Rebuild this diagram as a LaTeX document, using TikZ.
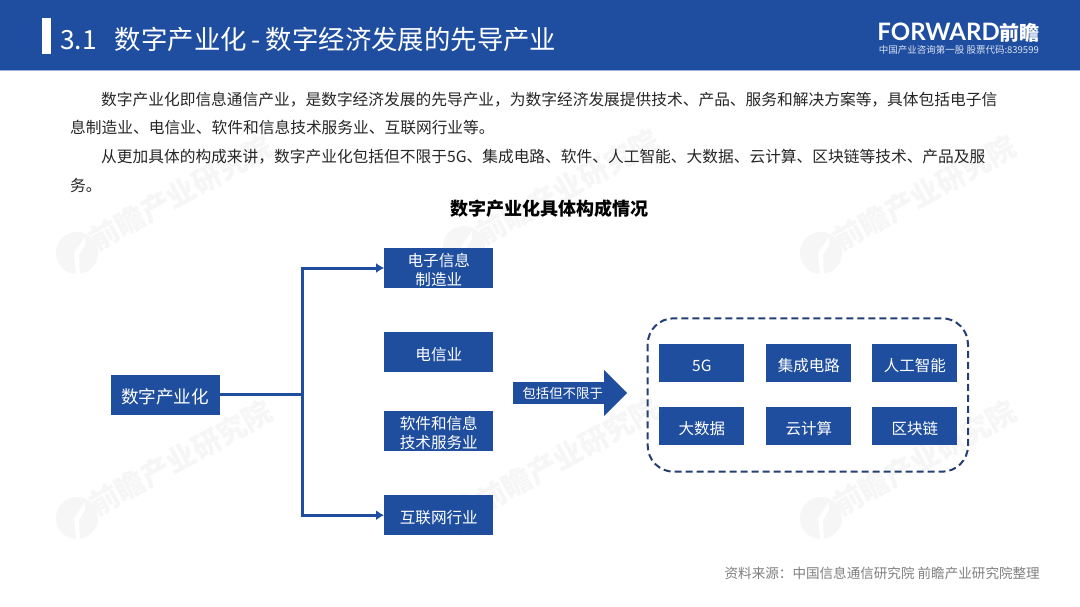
\documentclass[tikz,border=0pt]{standalone}
\usepackage{fontspec}
\setmainfont{Noto Sans CJK SC}
\newfontfamily\logofont{Lato}
\usetikzlibrary{shapes.arrows,arrows.meta}
\definecolor{headblue}{HTML}{1F4EA1}
\definecolor{boxblue}{HTML}{1F4E9E}
\definecolor{dashnavy}{HTML}{243F73}
\definecolor{bodygray}{HTML}{262626}
\definecolor{wmgray}{HTML}{F6F6F6}
\tikzset{
  box/.style={fill=boxblue,text=white,minimum width=109pt,minimum height=40pt,inner sep=0pt,align=center,font=\fontsize{15.6}{19.3}\selectfont},
  smallbox/.style={fill=boxblue,text=white,minimum width=85pt,minimum height=38.5pt,inner sep=0pt,font=\fontsize{15.5}{19}\selectfont},
  link/.style={draw=boxblue,line width=3pt},
  bodyline/.style={anchor=west,inner sep=0pt,text=bodygray,font=\fontsize{15.72}{17}\selectfont},
  wmark/.style={text=wmgray,rotate=29,inner sep=0pt,font=\fontsize{29}{29}\selectfont\bfseries},
}
\newcommand{\lowstrut}{\rule{0pt}{18pt}}
\newcommand{\twolines}[2]{\raisebox{-7.4pt}[16pt][16pt]{\begin{tabular}{@{}c@{}}#1\\#2\end{tabular}}}
\begin{document}
\begin{tikzpicture}[x=1pt,y=-1pt]
\useasboundingbox (0,0) rectangle (1080,607);
\fill[white] (0,0) rectangle (1080,607);
% watermarks
\foreach \wx/\wy in {181/193,925/193,181/458,925/458,568/187,568/455} {
  \fill[wmgray] (\wx-104,\wy+60) circle (21);
  \fill[white] (\wx-105,\wy+82) -- (\wx-107,\wy+60) -- (\wx-96,\wy+44) -- (\wx-96,\wy+52) -- (\wx-102,\wy+62) -- (\wx-101,\wy+82) -- cycle;
  \node[wmark] (wm) at (\wx,\wy) {前瞻产业研究院};
}
% header
\fill[headblue] (0,0) rectangle (1080,70);
\fill[headblue!45!white] (0,70) rectangle (1080,71.5);
\fill[white] (42,18) rectangle (51,54);
\node[anchor=west,inner sep=0pt,text=white,font=\fontsize{26.4}{28}\selectfont] (title) at (60,39.5) {3.1\hspace{18pt}数字产业化\hspace{5pt}-\hspace{5pt}数字经济发展的先导产业};
\node[anchor=east,inner sep=0pt,text=white,font=\logofont\fontsize{24}{24}\selectfont\bfseries] (logo) at (1040,33) {FORWARD\fontspec{Noto Sans CJK SC}\fontsize{20}{20}\selectfont 前瞻};
\node[anchor=east,inner sep=0pt,text=white!85!headblue,font=\fontsize{9.5}{10}\selectfont] (stock) at (1039,50) {中国产业咨询第一股 股票代码:839599};
% text
\node[bodyline] (para1) at (101,99.5) {数字产业化即信息通信产业，是数字经济发展的先导产业，为数字经济发展提供技术、产品、服务和解决方案等，具体包括电子信};
\node[bodyline] (para2) at (70,128) {息制造业、电信业、软件和信息技术服务业、互联网行业等。};
\node[bodyline] (para3) at (101,157) {从更加具体的构成来讲，数字产业化包括但不限于5G、集成电路、软件、人工智能、大数据、云计算、区块链等技术、产品及服};
\node[bodyline] (para4) at (70,185.5) {务。};
\node[inner sep=0pt,text=black,font=\fontsize{18}{20}\selectfont\bfseries] (chart) at (549,208.5) {数字产业化具体构成情况};
% left part
\node[box,font=\fontsize{17.6}{20}\selectfont] (digital) at (165,394.8) {\lowstrut 数字产业化};
\node[box] (elec) at (438.8,268) {\twolines{电子信息}{制造业}};
\node[box] (tele) at (438.8,351.7) {\lowstrut 电信业};
\node[box] (soft) at (438.8,431) {\twolines{软件和信息}{技术服务业}};
\node[box] (web) at (438.8,515.2) {\lowstrut 互联网行业};
\coordinate (branch) at (302,394.8);
\draw[link] (digital) -- (branch);
\draw[link,-{Latex[length=8pt,width=10pt]}] (branch) |- (elec);
\draw[link,-{Latex[length=8pt,width=10pt]}] (branch) |- (web);
% right part
\node[single arrow,fill=boxblue,text=white,anchor=tail,inner ysep=4pt,inner xsep=1pt,minimum height=114pt,minimum width=46pt,single arrow head extend=11.5pt,single arrow tip angle=90,font=\fontsize{13.4}{14}\selectfont] (include) at (513,393) {包括但不限于\hspace*{4pt}};
\draw[dashnavy,line width=2pt,dash pattern=on 7pt off 4pt,rounded corners=26pt] (647.7,318.3) rectangle (968,471.7);
\node[smallbox] (fiveg) at (701.8,363) {\lowstrut 5G};
\node[smallbox] (chip) at (808.8,363) {\lowstrut 集成电路};
\node[smallbox] (ai) at (914.8,363) {\lowstrut 人工智能};
\node[smallbox] (bigdata) at (701.8,426.2) {\lowstrut 大数据};
\node[smallbox] (cloud) at (808.8,426.2) {\lowstrut 云计算};
\node[smallbox] (chain) at (914.8,426.2) {\lowstrut 区块链};
% source
\node[anchor=east,inner sep=0pt,text=black!50,font=\fontsize{13.57}{15}\selectfont] (source) at (1040,573) {资料来源：中国信息通信研究院 前瞻产业研究院整理};
\end{tikzpicture}
\end{document}
